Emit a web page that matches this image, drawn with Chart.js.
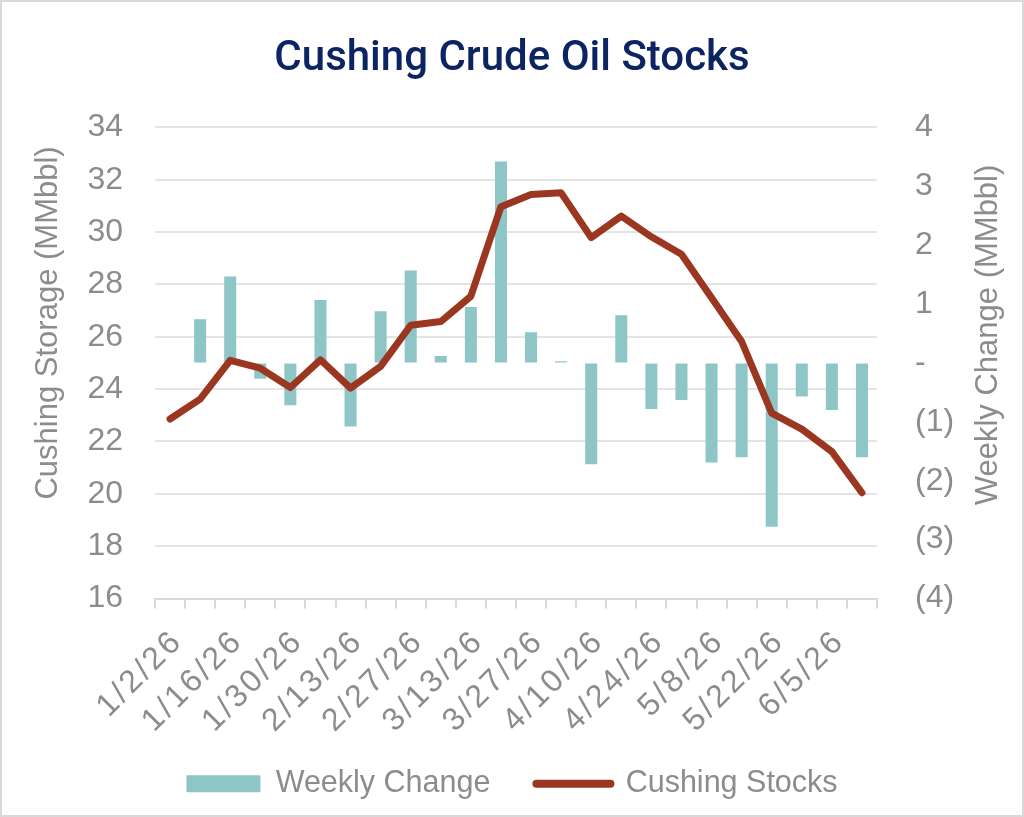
<!DOCTYPE html>
<html>
<head>
<meta charset="utf-8">
<title>Cushing Crude Oil Stocks</title>
<script src="https://cdn.jsdelivr.net/npm/chart.js@4.4.1/dist/chart.umd.min.js"></script>
<style>
  html, body { margin: 0; padding: 0; background: #fff; }
  #wrap {
    width: 1024px; height: 817px;
    box-sizing: border-box;
    border: 2px solid #d9d9d9;
    position: relative;
  }
</style>
</head>
<body>
<div id="wrap"><canvas id="chart"></canvas></div>
<script>
// weekly dates (every other one gets a label on the axis)
const dates = [
  '1/2/26', '1/9/26', '1/16/26', '1/23/26', '1/30/26', '2/6/26',
  '2/13/26', '2/20/26', '2/27/26', '3/6/26', '3/13/26', '3/20/26',
  '3/27/26', '4/3/26', '4/10/26', '4/17/26', '4/24/26', '5/1/26',
  '5/8/26', '5/15/26', '5/22/26', '5/29/26', '6/5/26', '6/12/26'
];

// Cushing storage, MMbbl (left axis)
const cushingStocks = [
  22.86, 23.62, 25.10, 24.80, 24.06, 25.12, 24.04, 24.87,
  26.44, 26.58, 27.55, 30.97, 31.44, 31.50, 29.79, 30.61,
  29.82, 29.15, 27.49, 25.82, 23.08, 22.47, 21.61, 20.04
];

// week-over-week change, MMbbl (right axis)
const weeklyChange = [
  null, 0.74, 1.47, -0.27, -0.72, 1.07, -1.08, 0.88,
  1.57, 0.12, 0.95, 3.42, 0.52, 0.03, -1.72, 0.81,
  -0.78, -0.63, -1.69, -1.60, -2.78, -0.57, -0.80, -1.60
];

const leftTitle = 'Cushing Storage (MMbbl)';
const rightTitle = 'Weekly Change (MMbbl)';

const grey = '#8c8c8c';
const teal = '#8ec6c8';
const rust = '#9b3620';
const sans = '"Liberation Sans", Arial, sans-serif';
const tickFont = { family: sans, size: 32 };

// Excel style "(1)" for negatives and "-" for zero
function accounting(v) {
  if (v === 0) return '-';
  return v < 0 ? '(' + Math.abs(v) + ')' : String(v);
}

// both axis titles read bottom-to-top, so draw them ourselves
const axisTitles = {
  id: 'axisTitles',
  afterDraw(chart) {
    const ctx = chart.ctx;
    const area = chart.chartArea;
    const midY = (area.top + area.bottom) / 2 - 40;
    ctx.save();
    ctx.font = '31px ' + sans;
    ctx.fillStyle = grey;
    ctx.textAlign = 'center';
    ctx.textBaseline = 'middle';
    [[chart.scales.y.left + 34, midY, leftTitle],
     [chart.scales.y1.right - 22, midY + 12, rightTitle]].forEach(([x, y, text]) => {
      ctx.save();
      ctx.translate(x, y);
      ctx.rotate(-Math.PI / 2);
      ctx.fillText(text, 0, 0);
      ctx.restore();
    });
    ctx.restore();
  }
};

const ctx = document.getElementById('chart').getContext('2d');
const chart = new Chart(ctx, {
  data: {
    labels: dates,
    datasets: [
      {
        type: 'bar',
        label: 'Weekly Change',
        data: weeklyChange,
        yAxisID: 'y1',
        backgroundColor: teal,
        barPercentage: 0.4,
        categoryPercentage: 1,
        order: 2
      },
      {
        type: 'line',
        label: 'Cushing Stocks',
        data: cushingStocks,
        yAxisID: 'y',
        borderColor: rust,
        borderWidth: 7,
        borderCapStyle: 'round',
        borderJoinStyle: 'round',
        pointRadius: 0,
        tension: 0,
        order: 1
      }
    ]
  },
  options: {
    responsive: true,
    maintainAspectRatio: false,
    animation: false,
    layout: { padding: { left: 12, right: 12, top: 0, bottom: 6 } },
    plugins: {
      title: {
        display: true,
        text: 'Cushing Crude Oil Stocks',
        color: '#0c2461',
        font: { family: 'Roboto, "Liberation Sans", sans-serif', size: 42, weight: 500 },
        padding: { top: 32, bottom: 43 }
      },
      legend: {
        position: 'bottom',
        labels: {
          usePointStyle: true,
          pointStyleWidth: 74,
          boxHeight: 17,
          padding: 46,
          color: grey,
          font: { family: sans, size: 30.5 },
          generateLabels: () => [
            { text: 'Weekly Change', fillStyle: teal, strokeStyle: teal, lineWidth: 0,
              pointStyle: 'rect', fontColor: grey, datasetIndex: 0 },
            { text: 'Cushing Stocks', fillStyle: rust, strokeStyle: rust, lineWidth: 8,
              lineCap: 'round', pointStyle: 'line', fontColor: grey, datasetIndex: 1 }
          ]
        }
      },
      tooltip: { enabled: false }
    },
    scales: {
      x: {
        offset: true,
        grid: {
          offset: true,
          drawOnChartArea: false,
          drawTicks: true,
          tickLength: 10,
          color: '#d9d9d9',
          lineWidth: 2
        },
        border: { color: '#d9d9d9', width: 2 },
        ticks: {
          autoSkip: false,
          minRotation: 45,
          maxRotation: 45,
          padding: 14,
          color: grey,
          font: { family: sans, size: 32 },
          callback: (v, i) => (i % 2 === 0 ? dates[i] : '')
        },
        afterFit: (s) => { s.height = 124; }
      },
      y: {
        position: 'left',
        min: 16,
        max: 34,
        grid: { color: '#e4e4e4', lineWidth: 2, drawTicks: false },
        border: { display: false },
        ticks: { stepSize: 2, padding: 32, color: grey, font: tickFont },
        afterFit: (s) => { s.width = 141; }
      },
      y1: {
        position: 'right',
        min: -4,
        max: 4,
        grid: { drawOnChartArea: false, drawTicks: false },
        border: { display: false },
        ticks: { stepSize: 1, padding: 38, color: grey, font: tickFont, callback: accounting },
        afterFit: (s) => { s.width = 133; }
      }
    }
  },
  plugins: [axisTitles]
});

// the date labels in the original are loosely spaced, sit a little right of the tick
// and run down into the space above the legend, so don't clip them to the axis box
const xScale = chart.scales.x;
const drawDateLabels = xScale.drawLabels.bind(xScale);
xScale._computeLabelArea = () => ({ top: xScale.top, left: 0, bottom: chart.height, right: chart.width });
xScale.drawLabels = (area) => {
  const c = xScale.ctx;
  c.save();
  c.translate(8, 0);
  c.letterSpacing = '3px';
  drawDateLabels(area);
  c.restore();
};
chart.draw();
</script>
</body>
</html>
